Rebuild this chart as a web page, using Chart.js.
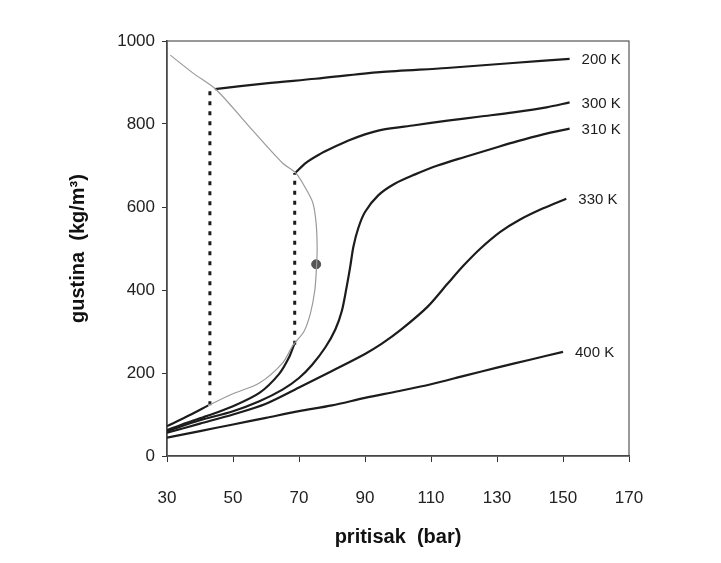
<!DOCTYPE html>
<html>
<head>
<meta charset="utf-8">
<script src="https://cdn.jsdelivr.net/npm/chart.js@4"></script>
<style>
  html, body { margin: 0; padding: 0; background: #ffffff; }
  canvas { display: block; }
</style>
</head>
<body>
<canvas id="chart" width="721" height="563"></canvas>
<script>
// tick values
const xTicks = [30, 50, 70, 90, 110, 130, 150, 170];
const yTicks = [0, 200, 400, 600, 800, 1000];

// isotherms: [pressure bar, density kg/m3]
const iso200Vapor = [[30, 72], [36, 95], [42.5, 122]];
const iso200Jump = [[43, 122], [43, 882]];
const iso200Liquid = [[44.5, 884], [60, 898], [75, 909], [94.5, 925], [114.8, 935], [134.8, 947], [152, 957]];

const iso300Vapor = [[30, 62], [36, 80], [42, 96], [50, 120], [58, 152], [64, 198], [67, 238], [68.5, 268]];
const iso300Jump = [[68.7, 268], [68.7, 682]];
const iso300Liquid = [[69, 683], [72, 706], [76, 726], [80, 742], [85, 760], [90, 775], [95, 786], [105, 797],
  [115, 808], [125, 818], [135, 828], [145, 840], [152, 852]];

const iso310 = [[30, 60], [40, 86], [50, 108], [58, 132], [65, 160], [70, 188], [74, 220], [78, 262], [81, 305],
  [83, 350], [84.5, 410], [85.5, 455], [86.5, 505], [88, 550], [90, 588], [94, 628], [99, 656], [105, 678],
  [112, 700], [120, 720], [128, 739], [136, 758], [144, 775], [152, 789]];

const iso330 = [[30, 56], [40, 78], [50, 100], [60, 126], [70, 165], [80, 205], [90, 246], [95, 270],
  [101, 305], [109, 360], [115, 415], [120, 460], [125, 500], [131, 540], [137, 570], [144, 597], [151, 620]];

const iso400 = [[30, 44], [40, 60], [50, 76], [60, 92], [70, 108], [80, 122], [90, 140], [100, 156], [110, 173],
  [120, 193], [130, 213], [140, 232], [150, 251]];

// saturation dome (thin gray)
const dome = [[31, 966], [38, 922], [45, 882], [55, 793], [65, 706], [69, 682], [72, 645], [74.2, 610], [75.2, 560],
  [75.5, 500], [75.3, 455], [74.8, 400], [73.5, 345], [71.5, 300], [68.2, 267], [65, 224], [58, 176], [50, 150], [42.5, 122]];

const criticalPoint = [[75.2, 462]];

const isoLabels = ['200 K', '300 K', '310 K', '330 K', '400 K'];

const pts = arr => arr.map(p => ({x: p[0], y: p[1]}));
const ink = '#1c1c1c';

function solid(arr, tag) {
    return {data: pts(arr), borderColor: ink, borderWidth: 2.2, pointRadius: 0, tension: 0.3, fill: false, tag: tag};
}
function dotted(arr) {
    return {data: pts(arr), borderColor: ink, borderWidth: 3, borderDash: [4, 6], pointRadius: 0, tension: 0, fill: false};
}

const datasets = [
    {data: pts(dome), borderColor: '#9a9a9a', borderWidth: 1.2, pointRadius: 0, tension: 0.3, fill: false},
    solid(iso200Vapor), dotted(iso200Jump), solid(iso200Liquid, isoLabels[0]),
    solid(iso300Vapor), dotted(iso300Jump), solid(iso300Liquid, isoLabels[1]),
    solid(iso310, isoLabels[2]),
    solid(iso330, isoLabels[3]),
    solid(iso400, isoLabels[4]),
    {data: pts(criticalPoint), showLine: false, pointRadius: 4.5, pointBackgroundColor: '#555', pointBorderColor: '#555'}
];

// frame around plot and end-of-line labels
const framePlugin = {
    id: 'frame',
    beforeDatasetsDraw(chart) {
        const a = chart.chartArea, ctx = chart.ctx;
        ctx.save();
        ctx.strokeStyle = '#555';
        ctx.lineWidth = 1.2;
        ctx.strokeRect(a.left, a.top, a.right - a.left, a.bottom - a.top);
        ctx.restore();
    },
    afterDatasetsDraw(chart) {
        const ctx = chart.ctx;
        ctx.save();
        ctx.font = '15px "Liberation Sans", Arial, sans-serif';
        ctx.fillStyle = ink;
        ctx.textBaseline = 'middle';
        chart.data.datasets.forEach((ds, i) => {
            if (!ds.tag) return;
            const pts = chart.getDatasetMeta(i).data;
            const last = pts[pts.length - 1];
            ctx.fillText(ds.tag, last.x + 12, last.y + 1);
        });
        ctx.restore();
    }
};

const tickFont = {family: '"Liberation Sans", Arial, sans-serif', size: 17};
const titleFont = {family: '"Liberation Sans", Arial, sans-serif', size: 20, weight: 'bold'};

new Chart(document.getElementById('chart').getContext('2d'), {
    type: 'line',
    data: {datasets: datasets},
    options: {
        responsive: false,
        animation: false,
        devicePixelRatio: 1,
        layout: {padding: {top: 41, right: 92, left: 0, bottom: 0}},
        plugins: {legend: {display: false}, tooltip: {enabled: false}},
        scales: {
            x: {
                type: 'linear', min: 30, max: 170,
                afterBuildTicks: s => { s.ticks = xTicks.map(v => ({value: v})); },
                afterFit: s => { s.height = 107; },
                ticks: {font: tickFont, color: '#222', padding: 26, maxRotation: 0, callback: v => String(v)},
                grid: {drawOnChartArea: false, drawTicks: true, tickLength: 6, color: '#333'},
                border: {color: '#333', width: 1.5},
                title: {display: true, text: 'pritisak  (bar)', font: titleFont, color: '#111', padding: {top: 0, bottom: 14}}
            },
            y: {
                type: 'linear', min: 0, max: 1000,
                afterBuildTicks: s => { s.ticks = yTicks.map(v => ({value: v})); },
                afterFit: s => { s.width = 167; },
                ticks: {font: tickFont, color: '#222', padding: 7, callback: v => String(v)},
                grid: {drawOnChartArea: false, drawTicks: true, tickLength: 5, color: '#333'},
                border: {color: '#333', width: 1.5},
                title: {display: true, text: 'gustina  (kg/m³)', font: titleFont, color: '#111', padding: {top: 66, bottom: 0}}
            }
        }
    },
    plugins: [framePlugin]
});
</script>
</body>
</html>
